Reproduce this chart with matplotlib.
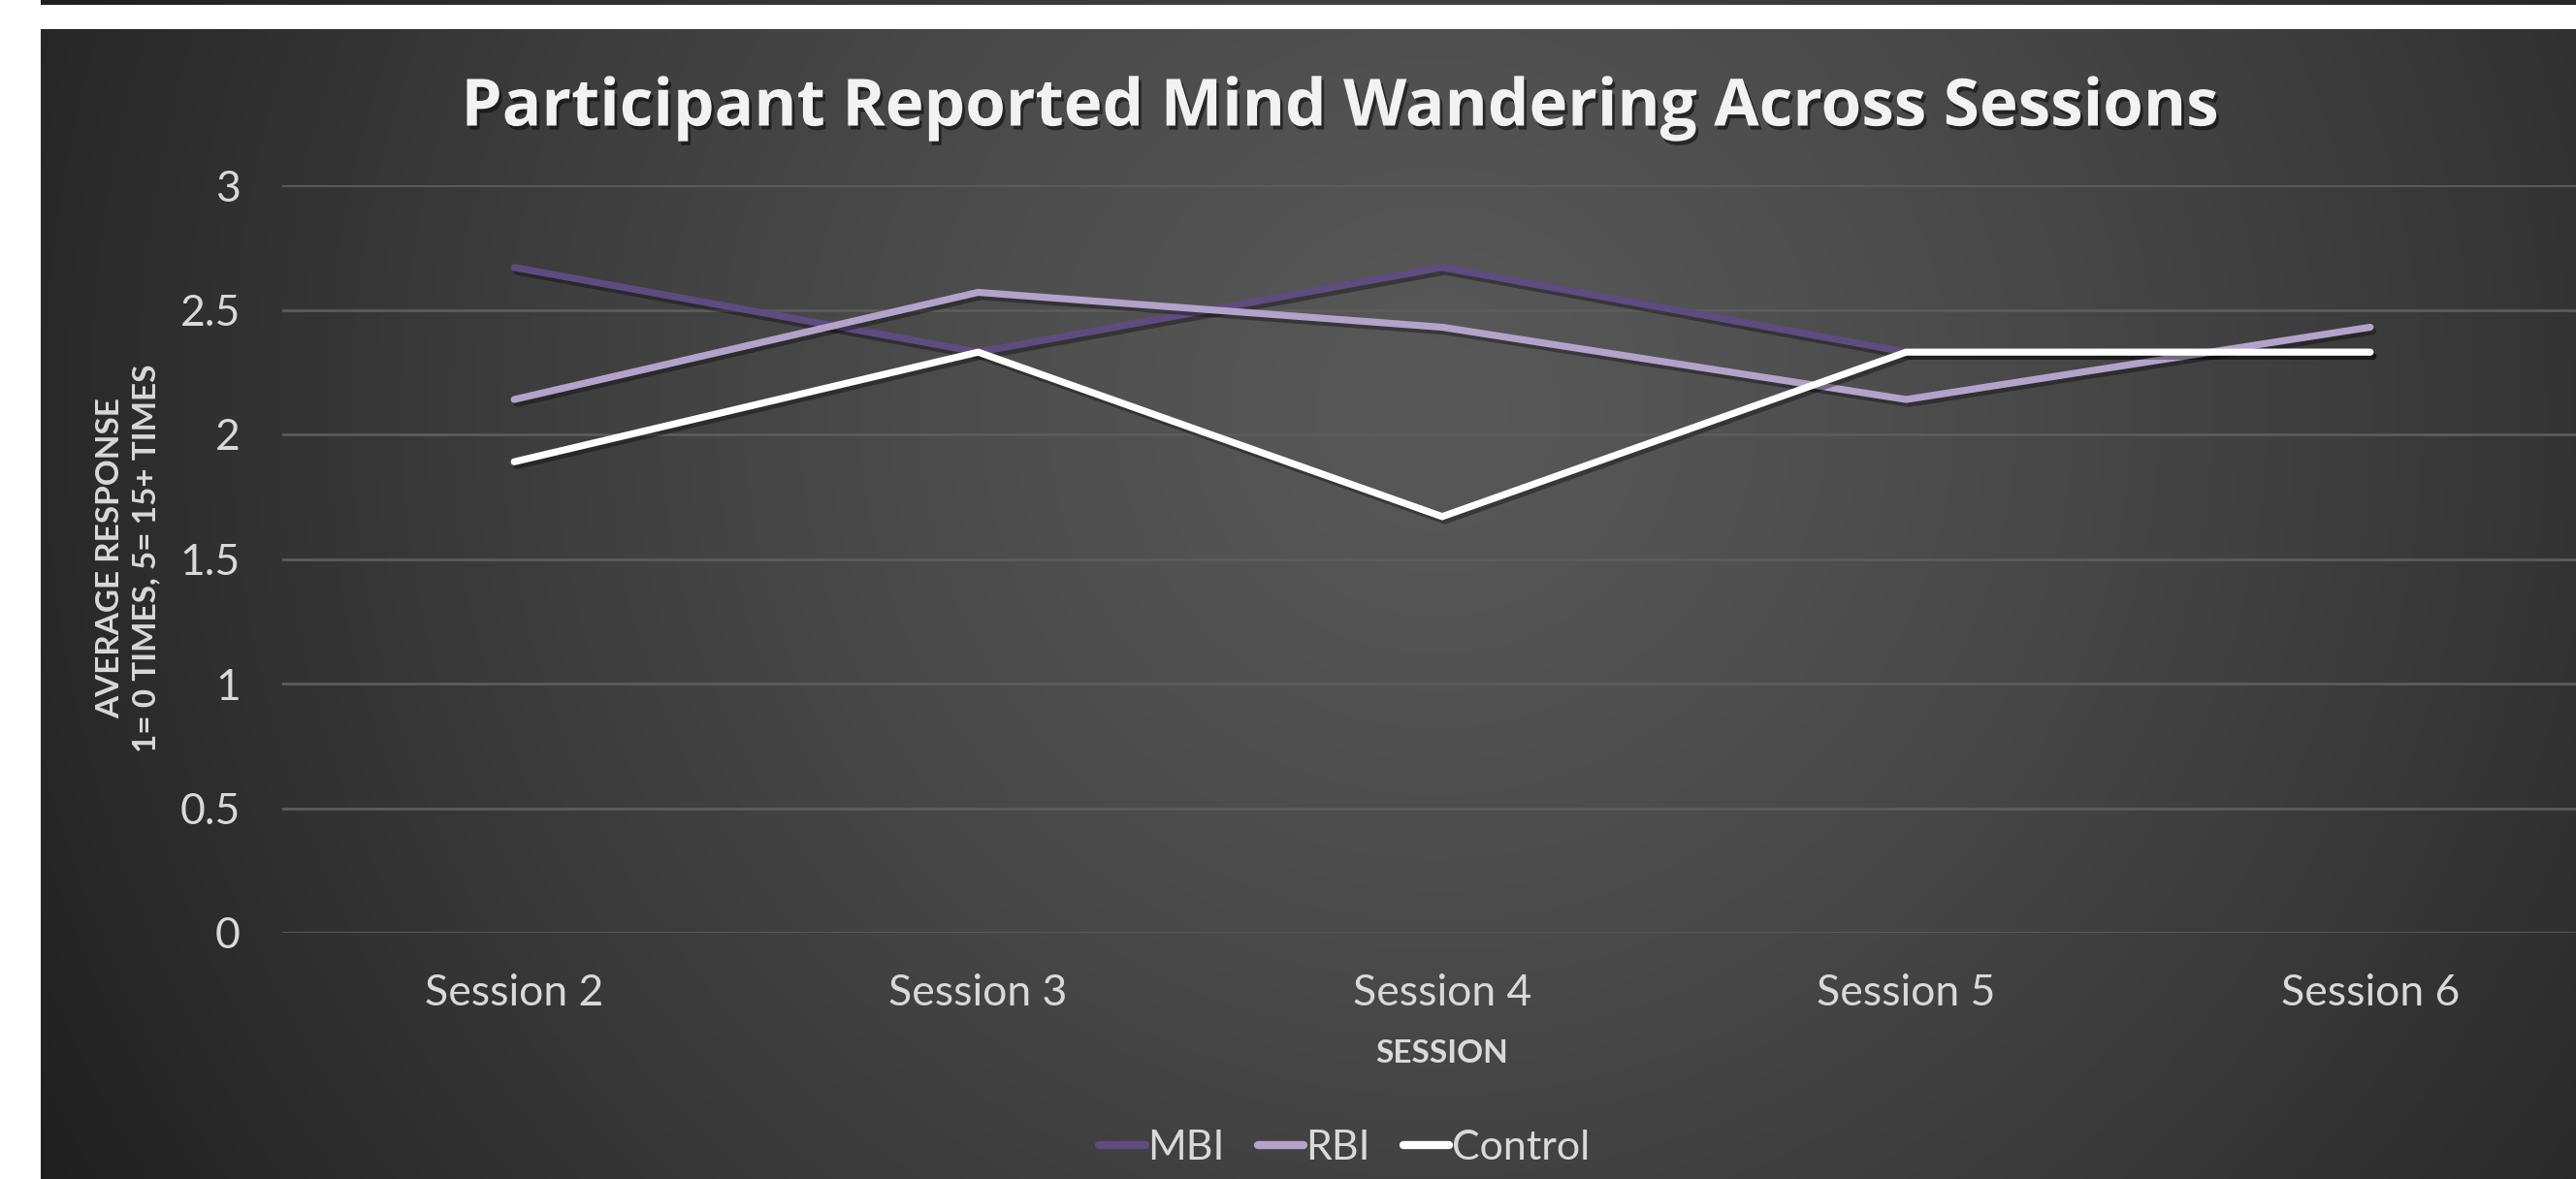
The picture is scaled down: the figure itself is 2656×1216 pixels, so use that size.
import numpy as np
import matplotlib.pyplot as plt
import matplotlib.patheffects as pe

plt.rcParams['font.family'] = ['Lato', 'DejaVu Sans']

sessions = ['Session 2', 'Session 3', 'Session 4', 'Session 5', 'Session 6']
mbi = [2.67, 2.33, 2.67, 2.33, 2.33]
rbi = [2.14, 2.57, 2.43, 2.14, 2.43]
control = [1.89, 2.33, 1.67, 2.33, 2.33]

W, H = 2656, 1216
fig = plt.figure(figsize=(W / 100, H / 100), dpi=100)
fig.patch.set_facecolor('white')

# dark radial-gradient panel
bg = fig.add_axes([42 / W, 0, 1 - 42 / W, (H - 30) / H])
bg.set_axis_off()
ny, nx = 300, 650
yy, xx = np.mgrid[0:ny, 0:nx]
cx, cy = 0.55 * nx, 0.33 * ny
r = np.sqrt(((xx - cx) / nx) ** 2 + ((yy - cy) / ny * 0.46) ** 2)
r = r / r.max()
lum = 0.345 - 0.22 * r ** 1.3
img = np.dstack([lum, lum, lum])
bg.imshow(img, aspect='auto', extent=[0, 1, 0, 1], origin='upper', zorder=-10)
bg.set_xlim(0, 1)
bg.set_ylim(0, 1)

# thin dark strip at the very top
strip = fig.add_axes([42 / W, 1 - 5 / H, 1 - 42 / W, 5 / H])
strip.set_axis_off()
strip.imshow(np.dstack([lum[:2], lum[:2], lum[:2]]) * 0.8, aspect='auto', extent=[0, 1, 0, 1])

ax = fig.add_axes([291 / W, 254 / H, (2683 - 291) / W, 771 / H])
ax.set_facecolor('none')
x = np.arange(len(sessions))
shadow = [pe.SimpleLineShadow(offset=(2, -3), shadow_color='black', alpha=0.35), pe.Normal()]
ax.plot(x, mbi, color='#5e4b80', lw=5.2, solid_capstyle='round', solid_joinstyle='miter',
        label='MBI', path_effects=shadow, zorder=3)
ax.plot(x, rbi, color='#b3a2ca', lw=5.2, solid_capstyle='round', solid_joinstyle='miter',
        label='RBI', path_effects=shadow, zorder=4)
ax.plot(x, control, color='white', lw=5.2, solid_capstyle='round', solid_joinstyle='miter',
        label='Control', path_effects=shadow, zorder=5)

ax.set_xlim(-0.5, 4.5)
ax.set_ylim(0, 3)
ax.set_yticks([0, 0.5, 1, 1.5, 2, 2.5, 3])
ax.set_yticklabels(['0', '0.5', '1', '1.5', '2', '2.5', '3'])
ax.set_xticks(x)
ax.set_xticklabels(sessions)
ax.grid(axis='y', color='#5c5c5c', lw=2)
ax.set_axisbelow(True)
for s in ax.spines.values():
    s.set_visible(False)
ax.tick_params(axis='both', length=0, colors='#d9d9d9', labelsize=32)
ax.tick_params(axis='y', pad=31)
ax.tick_params(axis='x', pad=30)

ax.set_xlabel('SESSION', color='#d9d9d9', fontsize=24, fontweight='bold', labelpad=20)
fig.text(132 / W, 1 - 576 / H, 'AVERAGE RESPONSE\n1= 0 TIMES, 5= 15+ TIMES', color='#d9d9d9',
         fontsize=24, fontweight='bold', rotation=90, ha='center', va='center',
         multialignment='center', linespacing=1.33)

fig.text(1381 / W, 1 - 112 / H, 'Participant Reported Mind Wandering Across Sessions',
         ha='center', va='center', color='#f2f2f2', fontsize=48.5, fontweight='bold',
         family=['Open Sans', 'DejaVu Sans'],
         path_effects=[pe.SimplePatchShadow(offset=(2, -3), shadow_rgbFace='black', alpha=0.5), pe.Normal()])

leg = fig.legend(loc='center', bbox_to_anchor=(1386 / W, 1 - 1184 / H), ncol=3, frameon=False,
                 fontsize=31, handlelength=1.1, handletextpad=0.05, columnspacing=0.8,
                 labelcolor='#d9d9d9')
for ln in leg.get_lines():
    ln.set_linewidth(6)
    ln.set_solid_capstyle('round')
    ln.set_path_effects([])

fig.savefig('out.png', dpi=100, facecolor=fig.get_facecolor())
